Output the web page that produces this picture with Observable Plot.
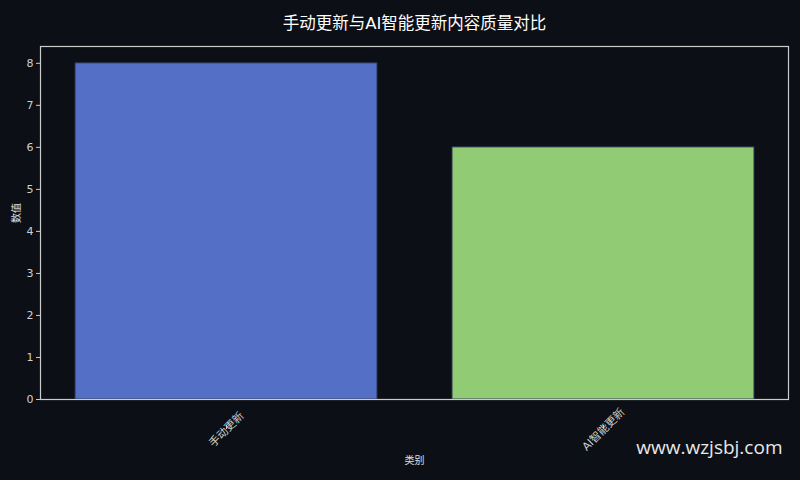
<!DOCTYPE html>
<html><head><meta charset="utf-8">
<script src="https://cdn.jsdelivr.net/npm/d3@7"></script>
<script src="https://cdn.jsdelivr.net/npm/@observablehq/plot@0.6"></script>
<style>
html,body{margin:0;padding:0;background:#0c0f15;}
#chart{width:800px;height:480px;}
</style>
</head><body><div id="chart"></div>
<script>
const categories = ["手动更新", "AI智能更新"];
const values = [8, 6];
const colors = ["#5470c6", "#91cc75"];
const yTicks = [0, 1, 2, 3, 4, 5, 6, 7, 8];
const title = "手动更新与AI智能更新内容质量对比";
const xLabel = "类别";
const yLabel = "数值";
const watermark = "www.wzjsbj.com";

const data = categories.map((c, i) => ({category: c, value: values[i], color: colors[i]}));
const font = "'DejaVu Sans', 'Noto Sans CJK SC', sans-serif";

const chart = Plot.plot({
  width: 800, height: 480,
  marginLeft: 40, marginRight: 12, marginTop: 46, marginBottom: 81,
  style: {background: "#0c0f15", color: "#e0e0e0", fontFamily: font, fontSize: "11px"},
  x: {domain: categories, paddingInner: 0.2, paddingOuter: 0.09, label: null},
  y: {domain: [0, 8.4], ticks: yTicks, label: null},
  marks: [
    Plot.barY(data, {x: "category", y: "value", fill: "color", stroke: "#2a3350", strokeWidth: 1}),
    Plot.axisY({ticks: yTicks, tickSize: 4, tickPadding: 3, stroke: "#cccccc", fill: "#d0d0d0", fontSize: 11, label: null}),
    Plot.axisX({tickSize: 4, tickPadding: 0, tickRotate: -45, stroke: "#cccccc", fill: "#d0d0d0", fontSize: 11, textAnchor: "middle", lineAnchor: "middle", dy: 26, label: null}),
    Plot.frame({stroke: "#cccccc", strokeWidth: 1.2}),
    Plot.text([title], {frameAnchor: "top", dy: -29, fontSize: 16.5, fill: "#ffffff", text: d => d}),
    Plot.text([xLabel], {frameAnchor: "bottom", dy: 64, fontSize: 10, fill: "#e0e0e0", text: d => d}),
    Plot.text([yLabel], {frameAnchor: "left", dx: -24, rotate: -90, fontSize: 10, fill: "#e0e0e0", text: d => d}),
    Plot.text([watermark], {frameAnchor: "bottom-right", dx: -6, dy: 54, fontSize: 19, fill: "#e8e8e8", fontFamily: "'Open Sans', 'DejaVu Sans', sans-serif", textAnchor: "end", text: d => d})
  ]
});
document.getElementById("chart").appendChild(chart);
</script>
</body></html>
